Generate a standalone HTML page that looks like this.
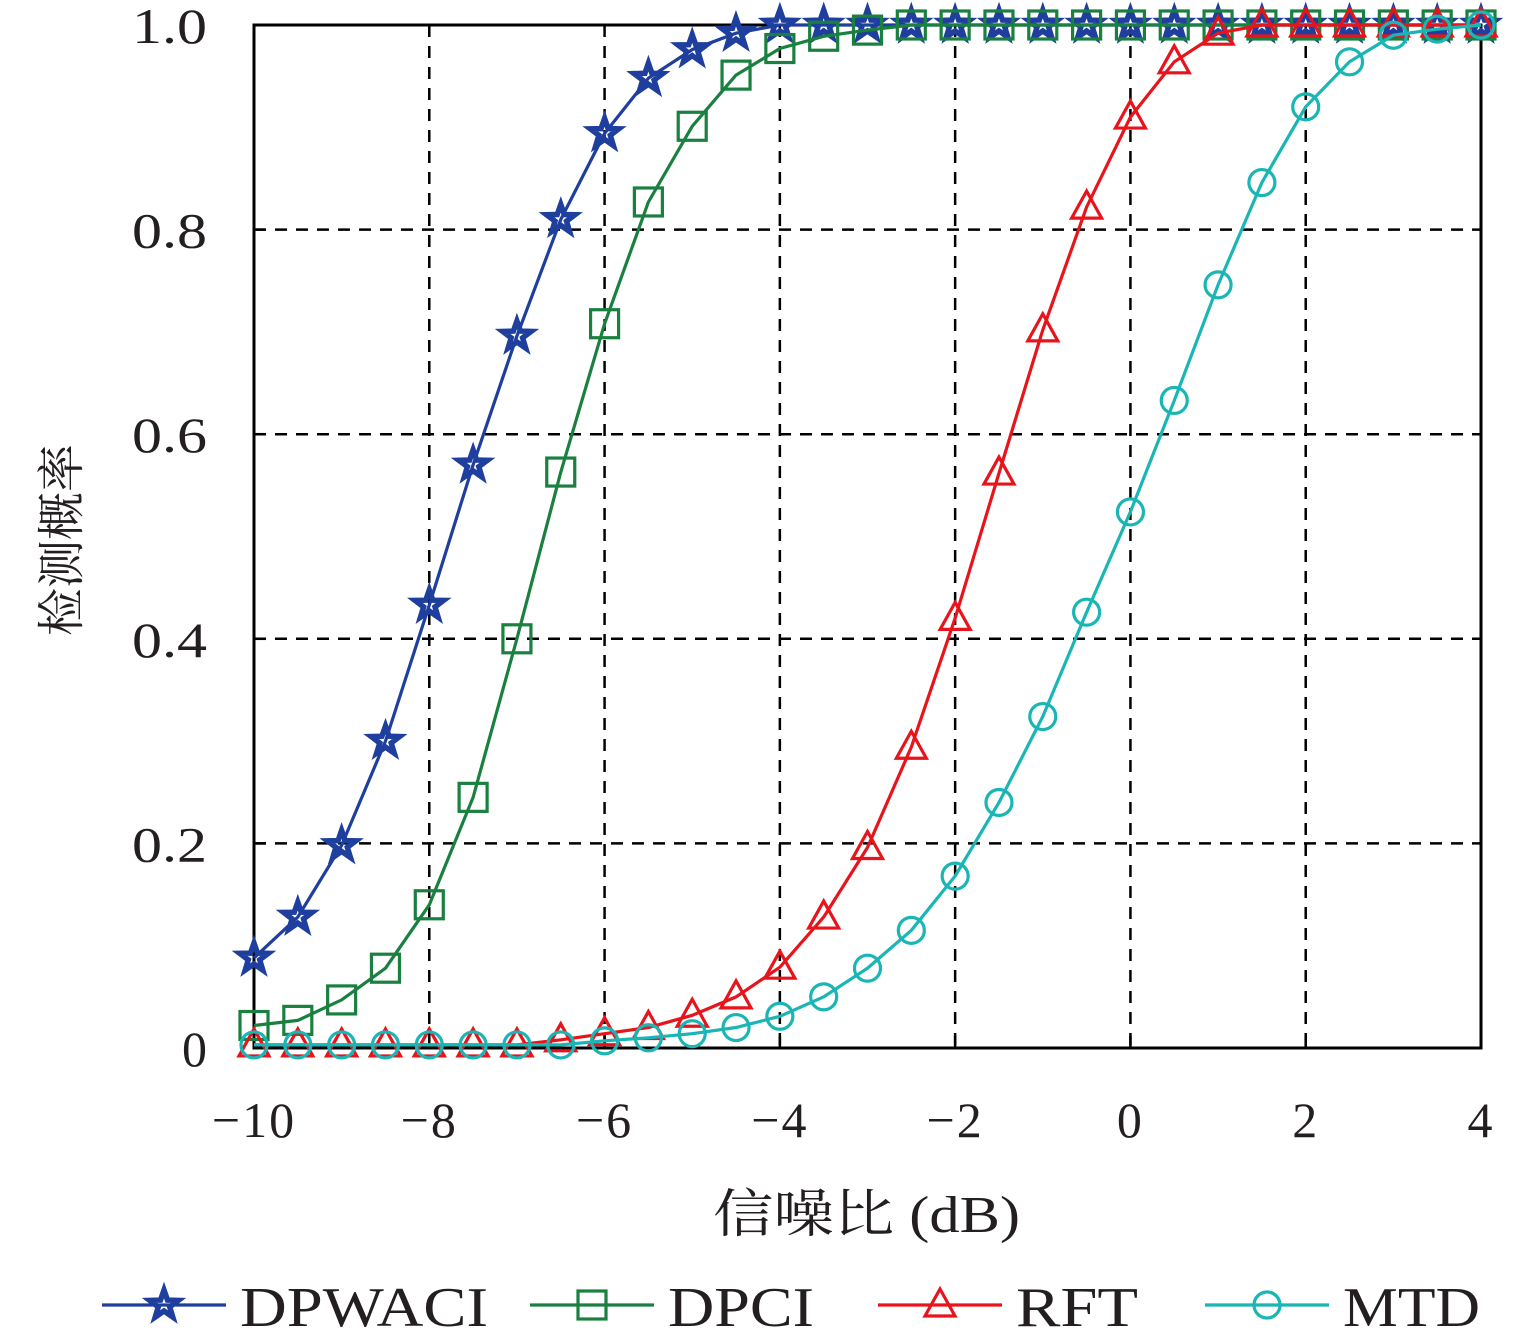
<!DOCTYPE html>
<html><head><meta charset="utf-8">
<style>
html,body{margin:0;padding:0;background:#fff;}
svg{display:block;}
text{font-family:"Liberation Serif","Noto Serif CJK SC",serif;fill:#231f20;}
</style></head>
<body>
<svg id="chart" width="1535" height="1330" viewBox="0 0 1535 1330" xmlns="http://www.w3.org/2000/svg">
<g id="grid"></g>
<g id="axes"></g>
<g id="series"></g>
<g id="legend"></g>
</svg>
<script>
const snr = [-10,-9.5,-9,-8.5,-8,-7.5,-7,-6.5,-6,-5.5,-5,-4.5,-4,-3.5,-3,-2.5,-2,-1.5,-1,-0.5,0,0.5,1,1.5,2,2.5,3,3.5,4];
const dpwaci = [0.088,0.128,0.198,0.30,0.433,0.57,0.696,0.81,0.894,0.948,0.976,0.992,1,1,1,1,1,1,1,1,1,1,1,1,1,1,1,1,1];
const dpci = [0.022,0.027,0.047,0.078,0.14,0.245,0.40,0.563,0.708,0.827,0.901,0.951,0.977,0.989,0.995,1,1,1,1,1,1,1,1,1,1,1,1,1,1];
const rft = [0.003,0.003,0.003,0.003,0.003,0.003,0.003,0.008,0.014,0.02,0.032,0.05,0.079,0.128,0.196,0.294,0.42,0.562,0.702,0.822,0.91,0.964,0.992,1,1,1,1,1,1];
const mtd = [0.003,0.003,0.003,0.003,0.003,0.003,0.003,0.003,0.007,0.01,0.014,0.02,0.031,0.05,0.078,0.115,0.168,0.24,0.324,0.426,0.524,0.633,0.746,0.846,0.92,0.964,0.99,0.996,1];
const xTicks = [-10,-8,-6,-4,-2,0,2,4];
const xTickLabels = ["\u221210","\u22128","\u22126","\u22124","\u22122","0","2","4"];
const yTicks = [0,0.2,0.4,0.6,0.8,1.0];
const yTickLabels = ["0","0.2","0.4","0.6","0.8","1.0"];
const seriesNames = ["DPWACI","DPCI","RFT","MTD"];

const NS="http://www.w3.org/2000/svg";
const L=254,R=1481,T=25,B=1048;
const xs=v=>L+(v+10)/14*(R-L);
const ys=v=>B-v*(B-T);
function mk(tag,attrs,parent){const e=document.createElementNS(NS,tag);for(const k in attrs)e.setAttribute(k,attrs[k]);parent.appendChild(e);return e;}
const grid=document.getElementById('grid'),axes=document.getElementById('axes'),ser=document.getElementById('series'),leg=document.getElementById('legend');

xTicks.forEach((t,i)=>{
  const x=xs(t);
  if(i>0&&i<xTicks.length-1){const g=mk('line',{x1:x,x2:x,y1:T,y2:B,stroke:'#000','stroke-width':2.5,'stroke-dasharray':'12 9'},grid);
  }
  const tk=mk('line',{x1:x,x2:x,y1:B,y2:B-12,stroke:'#000','stroke-width':2.5},axes);
  
  const lb=mk('text',{x:x,y:1137,'font-size':50,'text-anchor':'middle','letter-spacing':2},axes);lb.textContent=xTickLabels[i];
  
});
yTicks.forEach((t,i)=>{
  const y=ys(t);
  if(i>0&&i<yTicks.length-1){const g=mk('line',{x1:L,x2:R,y1:y,y2:y,stroke:'#000','stroke-width':2.5,'stroke-dasharray':'12 9'},grid);
  }
  const tk=mk('line',{x1:L,x2:L+12,y1:y,y2:y,stroke:'#000','stroke-width':2.5},axes);
  
  const lb=mk('text',{x:207,y:y+18,'font-size':50,'text-anchor':'end'},axes);lb.textContent=yTickLabels[i];
  if(yTickLabels[i].length>1){lb.setAttribute('textLength',75);lb.setAttribute('lengthAdjust','spacingAndGlyphs');}
  
});
const box=mk('rect',{x:L,y:T,width:R-L,height:B-T,fill:'none',stroke:'#000','stroke-width':3},axes);

const xt=mk('text',{x:713,y:1232,'font-size':52,textLength:307,lengthAdjust:'spacingAndGlyphs'},axes);xt.textContent='信噪比 (dB)';

const yt=mk('text',{x:0,y:0,'font-size':48,'text-anchor':'middle',transform:'translate(78,540) rotate(-90)'},axes);yt.textContent='检测概率';


function marker(type,x,y,color,parent){
  let e;
  if(type==='star'){
    let p=[];for(let k=0;k<10;k++){const r=k%2?6:15;const a=-Math.PI/2+k*Math.PI/5;p.push((x+r*Math.cos(a)).toFixed(1)+','+(y+r*Math.sin(a)).toFixed(1));}
    e=mk('polygon',{points:p.join(' '),fill:'none',stroke:color,'stroke-width':5.5,'stroke-linejoin':'miter'},parent);
  }else if(type==='square'){
    e=mk('rect',{x:x-14,y:y-14,width:28,height:28,fill:'none',stroke:color,'stroke-width':3.2},parent);
  }else if(type==='tri'){
    e=mk('polygon',{points:`${x},${y-16} ${x-15},${y+11} ${x+15},${y+11}`,fill:'none',stroke:color,'stroke-width':3.2},parent);
  }else{
    e=mk('circle',{cx:x,cy:y,r:13,fill:'none',stroke:color,'stroke-width':3.2},parent);
  }
  return e;
}
const defs=[[dpwaci,'#1f3f9f','star'],[dpci,'#1a8040','square'],[rft,'#e8141c','tri'],[mtd,'#1ab5b5','circle']];
defs.forEach(([vals,color,type],si)=>{
  const g=mk('g',{},ser);
  
  
  const pts=vals.map((v,i)=>xs(snr[i]).toFixed(1)+','+ys(v).toFixed(1)).join(' ');
  const pl=mk('polyline',{points:pts,fill:'none',stroke:color,'stroke-width':3.2},g);
  
  
  vals.forEach((v,i)=>{const m=marker(type,xs(snr[i]),ys(v),color,g);
    
    });
});
const legX=[102,530,878,1205];
const legW=[248,146,122,137];
defs.forEach(([vals,color,type],si)=>{
  const g=mk('g',{},leg);
  
  
  const x0=legX[si];
  mk('line',{x1:x0,x2:x0+124,y1:1305,y2:1305,stroke:color,'stroke-width':3.2},g);
  marker(type,x0+62,1305,color,g);
  const t=mk('text',{x:x0+138,y:1326,'font-size':56,textLength:legW[si],lengthAdjust:'spacingAndGlyphs'},g);t.textContent=seriesNames[si];
});
</script>
</body></html>
